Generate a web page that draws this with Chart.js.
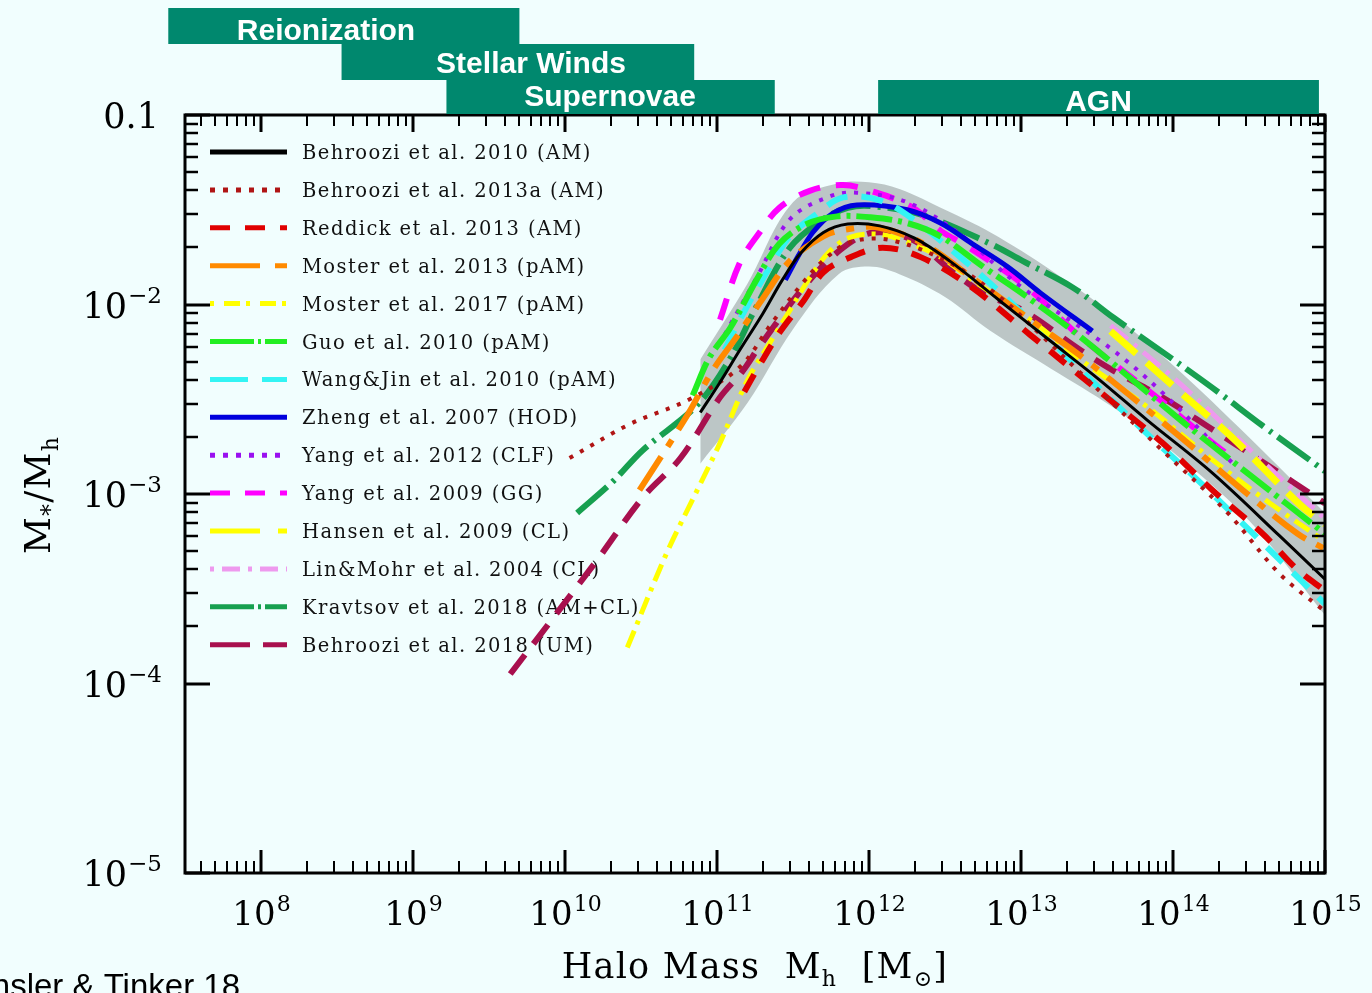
<!DOCTYPE html>
<html><head><meta charset="utf-8">
<script src="https://cdn.jsdelivr.net/npm/chart.js@4.4.1/dist/chart.umd.min.js"></script>
<style>
html,body{margin:0;padding:0;background:#f1fefe;}
#wrap{position:relative;width:1372px;height:993px;overflow:hidden;}
canvas{display:block;}
</style></head><body>
<div id="wrap"><canvas id="c" width="1372" height="993"></canvas></div>
<script>
// ---- data: log10(halo mass / Msun) and log10(M*/Mh) ----
const beh10LogM = [10.89, 11.02, 11.15, 11.30, 11.43, 11.55, 11.70, 11.86, 12.07, 12.30, 12.53, 12.86, 13.19, 13.52, 13.83, 14.26, 14.70, 15.0];
const beh10LogR = [-2.57, -2.41, -2.24, -2.05, -1.87, -1.73, -1.62, -1.575, -1.585, -1.65, -1.77, -1.98, -2.19, -2.40, -2.61, -2.89, -3.22, -3.45];

const beh13LogM = [10.03, 10.43, 10.82, 11.15, 11.35, 11.55, 11.71, 11.88, 12.14, 12.53, 12.86, 13.13, 13.39, 13.93, 14.36, 14.70, 15.0];
const beh13LogR = [-2.81, -2.63, -2.50, -2.33, -2.11, -1.90, -1.76, -1.67, -1.66, -1.78, -1.96, -2.16, -2.36, -2.77, -3.10, -3.42, -3.62];

const reddickLogM = [11.18, 11.28, 11.41, 11.57, 11.70, 11.88, 12.09, 12.34, 12.66, 13.06, 13.61, 13.93, 14.26, 14.59, 14.82, 15.0];
const reddickLogR = [-2.46, -2.32, -2.15, -1.98, -1.83, -1.75, -1.70, -1.75, -1.90, -2.16, -2.52, -2.73, -2.98, -3.21, -3.40, -3.51];

const moster13LogM = [10.49, 10.80, 10.97, 11.13, 11.30, 11.48, 11.70, 11.88, 12.07, 12.36, 12.68, 13.13, 13.39, 14.05, 14.49, 14.82, 15.0];
const moster13LogR = [-2.98, -2.59, -2.35, -2.17, -1.97, -1.77, -1.64, -1.60, -1.595, -1.68, -1.86, -2.12, -2.27, -2.70, -3.00, -3.21, -3.29];

const moster17LogM = [10.41, 10.67, 10.87, 11.02, 11.20, 11.35, 11.48, 11.61, 11.74, 11.88, 12.07, 12.25, 12.47, 12.68, 13.06, 13.39, 13.83, 14.26, 14.64, 15.0];
const moster17LogR = [-3.81, -3.31, -2.98, -2.73, -2.40, -2.20, -2.03, -1.86, -1.72, -1.645, -1.63, -1.67, -1.75, -1.87, -2.08, -2.29, -2.54, -2.82, -3.05, -3.25];

const guoLogM = [10.84, 10.95, 11.09, 11.26, 11.41, 11.59, 11.79, 12.01, 12.25, 12.47, 12.75, 13.04, 13.39, 14.05, 14.49, 15.0];
const guoLogR = [-2.48, -2.28, -2.12, -1.87, -1.68, -1.575, -1.535, -1.54, -1.57, -1.64, -1.80, -1.96, -2.17, -2.61, -2.89, -3.21];

const wangLogM = [11.05, 11.17, 11.35, 11.48, 11.66, 11.83, 12.07, 12.29, 12.60, 12.84, 13.08, 13.41, 13.80, 14.18, 14.77, 15.0];
const wangLogR = [-2.24, -2.05, -1.80, -1.64, -1.52, -1.435, -1.45, -1.55, -1.75, -1.92, -2.10, -2.36, -2.66, -2.94, -3.40, -3.58];

const zhengLogM = [11.45, 11.53, 11.63, 11.76, 11.92, 12.25, 12.47, 12.68, 12.91, 13.13, 13.47];
const zhengLogR = [-1.87, -1.75, -1.62, -1.52, -1.475, -1.50, -1.57, -1.68, -1.80, -1.94, -2.14];

const yang12LogM = [11.05, 11.26, 11.48, 11.74, 11.92, 12.25, 12.60, 12.99, 13.57, 13.91, 14.42];
const yang12LogR = [-2.16, -1.86, -1.55, -1.43, -1.41, -1.46, -1.63, -1.90, -2.22, -2.45, -2.86];

const yang09LogM = [11.02, 11.15, 11.28, 11.41, 11.61, 11.83, 12.05, 12.29, 12.47, 12.66, 13.04, 13.39, 13.91, 14.26, 14.41];
const yang09LogR = [-2.08, -1.78, -1.62, -1.49, -1.40, -1.37, -1.41, -1.49, -1.61, -1.70, -1.91, -2.17, -2.50, -2.73, -2.82];

const hansenLogM = [13.59, 14.03, 14.40, 14.84, 15.0];
const hansenLogR = [-2.14, -2.45, -2.71, -3.06, -3.16];

const linMohrLogM = [13.59, 14.05, 14.59, 15.0];
const linMohrLogR = [-2.11, -2.42, -2.83, -3.13];

const kravtsovLogM = [10.08, 10.32, 10.51, 10.87, 11.09, 11.26, 11.48, 11.70, 11.86, 12.01, 12.36, 12.80, 13.01, 13.34, 13.61, 13.93, 14.26, 14.59, 14.95, 15.0];
const kravtsovLogR = [-3.10, -2.93, -2.77, -2.53, -2.28, -2.01, -1.70, -1.55, -1.49, -1.48, -1.53, -1.68, -1.77, -1.91, -2.07, -2.25, -2.44, -2.64, -2.85, -2.88];

const beh18LogM = [9.64, 10.21, 10.51, 10.76, 11.02, 11.17, 11.28, 11.59, 11.83, 12.03, 12.29, 12.51, 12.75, 13.01, 13.39, 13.61, 13.93, 14.26, 14.57, 15.0];
const beh18LogR = [-3.95, -3.35, -3.02, -2.81, -2.49, -2.35, -2.22, -1.89, -1.70, -1.62, -1.66, -1.80, -1.94, -2.03, -2.24, -2.35, -2.49, -2.66, -2.82, -3.05];

// scatter band (grey)
const bandLogM  = [10.89, 11.2, 11.5, 11.8, 12.0, 12.2, 12.5, 12.8, 13.2, 13.6, 14.0, 14.5, 15.0];
const bandUpper = [-2.29, -1.89, -1.46, -1.36, -1.355, -1.39, -1.50, -1.62, -1.82, -2.05, -2.32, -2.70, -3.10];
const bandLower = [-2.84, -2.52, -2.13, -1.84, -1.80, -1.84, -1.96, -2.14, -2.34, -2.54, -2.78, -3.14, -3.64];

// axis tick labels
const xTickExps = [8, 9, 10, 11, 12, 13, 14, 15];
const yTickExps = [-5, -4, -3, -2];
const yTopLabel = '0.1';

// feedback regimes (mass ranges, log10)
const regimeNames = ['Reionization', 'Stellar Winds', 'Supernovae', 'AGN'];
const regimeFrom  = [7.39, 8.53, 9.22, 12.06];
const regimeTo    = [9.70, 10.85, 11.38, 14.96];

const labels = ['Behroozi et al. 2010 (AM)','Behroozi et al. 2013a (AM)','Reddick et al. 2013 (AM)','Moster et al. 2013 (pAM)','Moster et al. 2017 (pAM)','Guo et al. 2010 (pAM)','Wang&Jin et al. 2010 (pAM)','Zheng et al. 2007 (HOD)','Yang et al. 2012 (CLF)','Yang et al. 2009 (GG)','Hansen et al. 2009 (CL)','Lin&Mohr et al. 2004 (CL)','Kravtsov et al. 2018 (AM+CL)','Behroozi et al. 2018 (UM)'];

function pts(lm, lr){ return lm.map((m,i)=>({x: Math.pow(10,m), y: Math.pow(10, lr[i])})); }
function line(label, lm, lr, color, width, dash, legendDash){
  return {label, data: pts(lm, lr), borderColor: color, borderWidth: width, borderDash: dash,
          legendDash: legendDash || dash, fill:false, pointRadius:0, tension:0.35, order: 1};
}

const datasets = [
  line(labels[0], beh10LogM, beh10LogR, '#000000', 3, []),
  line(labels[1], beh13LogM, beh13LogR, '#b01515', 4, [4,8], [5,8]),
  line(labels[2], reddickLogM, reddickLogR, '#e00000', 6, [20,14], [20,15]),
  line(labels[3], moster13LogM, moster13LogR, '#ff8a00', 6, [40,12,8,12], [50,15]),
  line(labels[4], moster17LogM, moster17LogR, '#ffff00', 5, [18,7,4,7], [4,10,16,6]),
  line(labels[5], guoLogM, guoLogR, '#22ee22', 6, [36,6,4,6], [44,4,3,4]),
  line(labels[6], wangLogM, wangLogR, '#33f4f4', 6, [22,14], [38,14]),
  line(labels[7], zhengLogM, zhengLogR, '#0000dd', 5, []),
  line(labels[8], yang12LogM, yang12LogR, '#9a10f0', 4, [4,8], [5,8]),
  line(labels[9], yang09LogM, yang09LogR, '#ff00ff', 6, [22,16], [20,15]),
  line(labels[10], hansenLogM, hansenLogR, '#ffff00', 7, [34,14], [50,18]),
  line(labels[11], linMohrLogM, linMohrLogR, '#ee99ee', 5, [22,8,4,8], [4,8,18,8]),
  line(labels[12], kravtsovLogM, kravtsovLogR, '#17a050', 6, [40,7,3,7], [44,4,3,4]),
  line(labels[13], beh18LogM, beh18LogR, '#a8104e', 6, [24,14], [40,13]),
  {label:'band-upper', data: pts(bandLogM, bandUpper), borderWidth:0, borderColor:'rgba(0,0,0,0)',
   backgroundColor:'#bcc6c6', fill:'+1', pointRadius:0, tension:0.35, order: 20, isBand:true},
  {label:'band-lower', data: pts(bandLogM, bandLower), borderWidth:0, borderColor:'rgba(0,0,0,0)',
   fill:false, pointRadius:0, tension:0.35, order: 21, isBand:true}
];

const SERIF = "'DejaVu Serif', 'Liberation Serif', serif";

function drawPow(ctx, exp, cx, baseline, align, big, small){
  ctx.font = big + 'px ' + SERIF;
  const w1 = ctx.measureText('10').width;
  ctx.font = small + 'px ' + SERIF;
  const es = exp < 0 ? '\u2212' + (-exp) : String(exp);
  const w2 = ctx.measureText(es).width;
  let x0 = align === 'center' ? cx - (w1 + w2) / 2 : cx - (w1 + w2);
  ctx.textAlign = 'left';
  ctx.font = big + 'px ' + SERIF;
  ctx.fillText('10', x0, baseline);
  ctx.font = small + 'px ' + SERIF;
  ctx.fillText(es, x0 + w1 + 1, baseline - big * 0.42);
}

function drawSegs(ctx, segs, cx, baseline){
  let w = 0;
  segs.forEach(s => { ctx.font = s[1] + 'px ' + SERIF; w += ctx.measureText(s[0]).width; });
  let x = cx - w / 2;
  ctx.textAlign = 'left';
  segs.forEach(s => { ctx.font = s[1] + 'px ' + SERIF; ctx.fillText(s[0], x, baseline + s[2]); x += ctx.measureText(s[0]).width; });
}

const legendPlugin = {
  id: 'inlegend',
  beforeDatasetsDraw(chart){
    const ctx = chart.ctx;
    ctx.save();
    chart.data.datasets.forEach((d, i) => {
      if (d.isBand) return;
      const yc = 152 + i * 37.9;
      ctx.beginPath();
      ctx.setLineDash(d.legendDash);
      ctx.lineWidth = 5;
      ctx.strokeStyle = d.borderColor;
      ctx.moveTo(210, yc); ctx.lineTo(287, yc);
      ctx.stroke();
      ctx.setLineDash([]);
      ctx.fillStyle = '#111';
      ctx.font = '19.5px ' + SERIF;
      ctx.letterSpacing = '1.4px';
      ctx.textAlign = 'left';
      ctx.fillText(d.label, 302, yc + 7);
      ctx.letterSpacing = '0px';
    });
    ctx.restore();
  }
};

const axesPlugin = {
  id: 'axesdeco',
  afterDatasetsDraw(chart){
    const {ctx, chartArea: a, scales: {x, y}} = chart;
    ctx.save();
    ctx.strokeStyle = '#000';
    ctx.setLineDash([]);
    const seg = (x1,y1,x2,y2,w) => { ctx.lineWidth = w; ctx.beginPath(); ctx.moveTo(x1,y1); ctx.lineTo(x2,y2); ctx.stroke(); };
    // x ticks
    for (let e = 7; e <= 15; e++) for (let m = 1; m <= 9; m++) {
      const v = m * Math.pow(10, e);
      if (v < x.min * 0.999 || v > x.max * 1.001) continue;
      const px = Math.round(x.getPixelForValue(v));
      const major = m === 1;
      const len = major ? 23 : 12;
      seg(px, a.bottom, px, a.bottom - len, major ? 3 : 2);
      seg(px, a.top, px, a.top + (major ? 17 : 11), major ? 3 : 2);
    }
    // y ticks
    for (let e = -5; e <= -1; e++) for (let m = 1; m <= 9; m++) {
      const v = m * Math.pow(10, e);
      if (v < y.min * 0.999 || v > y.max * 1.001) continue;
      if (e === -5 && m > 1) continue;
      const py = Math.round(y.getPixelForValue(v));
      const major = m === 1;
      const len = major ? 25 : 13;
      seg(a.left, py, a.left + len, py, major ? 3 : 2.5);
      seg(a.right, py, a.right - len, py, major ? 3 : 2.5);
    }
    // frame
    ctx.lineWidth = 3;
    ctx.strokeRect(a.left, a.top, a.right - a.left, a.bottom - a.top);

    // tick labels
    ctx.fillStyle = '#000';
    xTickExps.forEach(e => drawPow(ctx, e, x.getPixelForValue(Math.pow(10, e)), 925, 'center', 34, 22));
    yTickExps.forEach(e => drawPow(ctx, e, 161, y.getPixelForValue(Math.pow(10, e)) + 13, 'right', 35, 23));
    ctx.font = '35px ' + SERIF; ctx.textAlign = 'right';
    ctx.fillText(yTopLabel, 159, y.getPixelForValue(0.1) + 13);

    // axis titles
    ctx.letterSpacing = '1.2px';
    drawSegs(ctx, [['Halo Mass  M', 35, 0], ['h', 22, 8], ['  [M', 35, 0], ['\u2299', 22, 8], [']', 35, 0]], 755, 978);
    ctx.save();
    ctx.translate(50, 495);
    ctx.rotate(-Math.PI / 2);
    drawSegs(ctx, [['M', 36, 0], ['*', 24, 8], ['/M', 36, 0], ['h', 22, 8]], 0, 0);
    ctx.restore();
    ctx.letterSpacing = '0px';

    // feedback regime boxes
    const rows = [[8, 44], [44, 80], [80, 114], [80, 114]];
    const textBase = [40, 73, 106, 111];
    regimeNames.forEach((n, i) => {
      const x1 = x.getPixelForValue(Math.pow(10, regimeFrom[i]));
      const x2 = x.getPixelForValue(Math.pow(10, regimeTo[i]));
      ctx.fillStyle = '#00886e';
      ctx.fillRect(x1, rows[i][0], x2 - x1, rows[i][1] - rows[i][0]);
      ctx.fillStyle = '#ffffff';
      ctx.font = "bold 30px 'Liberation Sans', Arial, sans-serif";
      ctx.textAlign = 'center';
      const cx = i === 3 ? (x1 + x2) / 2 : [326, 531, 610][i];
      ctx.fillText(n, cx, textBase[i]);
    });

    // source note
    ctx.fillStyle = '#000';
    ctx.font = "33px 'Liberation Sans', Arial, sans-serif";
    ctx.textAlign = 'right';
    ctx.fillText('Wechsler & Tinker 18', 240, 997);
    ctx.restore();
  }
};

new Chart(document.getElementById('c'), {
  type: 'line',
  data: { datasets },
  options: {
    responsive: false,
    animation: false,
    devicePixelRatio: 1,
    layout: { padding: { left: 185, right: 47, top: 115, bottom: 120 } },
    plugins: { legend: { display: false }, tooltip: { enabled: false } },
    scales: {
      x: { type: 'logarithmic', min: Math.pow(10, 7.5), max: 1e15, display: false },
      y: { type: 'logarithmic', min: 1e-5, max: 0.1, display: false }
    },
    elements: { point: { radius: 0 } }
  },
  plugins: [legendPlugin, axesPlugin]
});
</script>
</body></html>
